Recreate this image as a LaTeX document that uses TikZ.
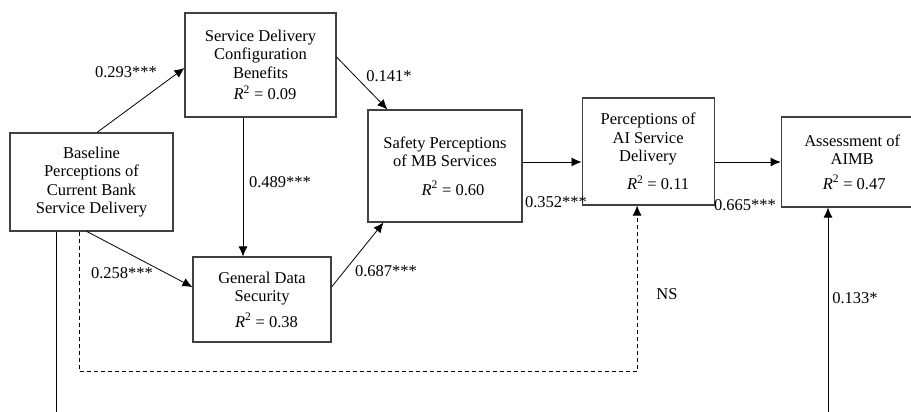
\documentclass[tikz,border=0pt]{standalone}
\usepackage{fontspec}
\setmainfont{Liberation Serif}
\usetikzlibrary{positioning,arrows.meta}

\tikzset{
  caja/.style={draw=black!75, line width=1.1pt, align=center, inner sep=1pt},
  flecha/.style={line width=0.8pt, -{Latex[length=10pt,width=9pt]}},
  coef/.style={inner sep=0pt}
}
% linea del R^2, con un corrimiento opcional a la derecha
\newcommand{\rcuad}[2][0pt]{\hspace*{#1}\textit{R}\textsuperscript{2} = #2}

\begin{document}
\begin{tikzpicture}[x=1pt, y=-1pt, font=\fontsize{16.5}{18.5}\selectfont]
  \useasboundingbox (0,0) rectangle (911,412);
  \clip (0,0) rectangle (911,412);

  % Nodos
  \node[caja, minimum width=163pt, minimum height=98pt] (base) at (91.5,182) {Baseline\\Perceptions of\\Current Bank\\Service Delivery};
  \node[caja, minimum width=151pt, minimum height=104pt] (config) at (260.5,65) {Service Delivery\\Configuration\\Benefits\\[3pt]\rcuad[9pt]{0.09}};
  \node[caja, minimum width=154pt, minimum height=112pt] (safety) at (445,166) {Safety Perceptions\\of MB Services\\[10pt]\rcuad[16pt]{0.60}};
  \node[caja, minimum width=138pt, minimum height=85pt] (datos) at (262,299.5) {General Data\\Security\\[7pt]\rcuad[9pt]{0.38}};
  \node[caja, minimum width=132pt, minimum height=107pt, right=59pt of safety, yshift=14.5pt] (ai) {Perceptions of\\AI Service\\Delivery\\[9pt]\rcuad[20pt]{0.11}};
  \node[caja, minimum width=142pt, minimum height=90pt, right=66pt of ai, yshift=-10.5pt] (aimb) {Assessment of\\AIMB\\[6pt]\rcuad[4pt]{0.47}};

  % Conexiones
  \draw[flecha] ([xshift=5.5pt]base.north) -- ([yshift=-3pt]config.west);
  \draw[flecha] ([yshift=8pt]config.east) -- ([xshift=20pt]safety.north west);
  \draw[flecha] ([xshift=-17.5pt]config.south) -- ([xshift=-17.5pt]config.south |- datos.north);
  \draw[flecha] ([xshift=-4.5pt]base.south) -- ([yshift=12.5pt]datos.west);
  \draw[flecha] ([yshift=12.5pt]datos.east) -- ([xshift=16pt]safety.south west);
  \draw[flecha] ([yshift=4pt]safety.east) -- ([yshift=4pt]safety.east -| ai.west);
  \draw[flecha] (ai.east |- aimb.west) -- (aimb.west);

  % Camino NS (discontinuo)
  \coordinate (lazo) at (0,371);
  \coordinate (ainf) at ([xshift=-11pt]ai.south);
  \draw[flecha, dash pattern=on 4pt off 3pt] ([xshift=-12.5pt]base.south) |- (lazo -| ainf) -- (ainf);

  % Lineas que salen por abajo
  \coordinate (salida) at (56,412);
  \draw[line width=0.8pt] (salida |- base.south) -- (salida);
  \coordinate (entrada) at (828,412);
  \draw[flecha] (entrada) -- (entrada |- aimb.south);

  % Coeficientes
  \node[coef] (c1) at (126,72) {0.293***};
  \node[coef] (c2) at (389,76) {0.141*};
  \node[coef] (c3) at (280,182) {0.489***};
  \node[coef] (c4) at (122,273) {0.258***};
  \node[coef] (c5) at (386,271) {0.687***};
  \node[coef] (c6) at (556,202) {0.352***};
  \node[coef] (c7) at (745,205) {0.665***};
  \node[coef] (c8) at (667,294) {NS};
  \node[coef] (c9) at (855,298) {0.133*};
\end{tikzpicture}
\end{document}
